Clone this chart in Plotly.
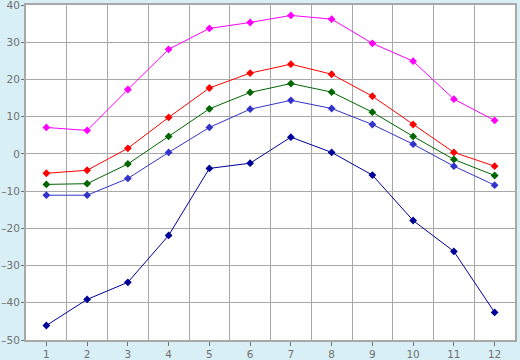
import plotly.graph_objects as go

months = [1, 2, 3, 4, 5, 6, 7, 8, 9, 10, 11, 12]
y_ticks = [-50, -40, -30, -20, -10, 0, 10, 20, 30, 40]
y_labels = ["–50", "–40", "–30", "–20", "–10", "0", "10", "20", "30", "40"]
s_max = [7.1, 6.3, 17.3, 28.1, 33.7, 35.3, 37.2, 36.2, 29.7, 24.9, 14.7, 9.0]
s_high = [-5.2, -4.4, 1.5, 9.8, 17.7, 21.7, 24.1, 21.4, 15.5, 7.9, 0.4, -3.3]
s_mean = [-8.2, -8.0, -2.7, 4.7, 12.1, 16.5, 18.9, 16.6, 11.2, 4.7, -1.5, -5.8]
s_low = [-11.1, -11.1, -6.6, 0.4, 7.1, 12.0, 14.4, 12.2, 7.9, 2.6, -3.3, -8.4]
s_min = [-46.1, -39.1, -34.5, -21.9, -3.9, -2.5, 4.5, 0.4, -5.7, -17.9, -26.2, -42.6]

series = [
    (s_max, "#ff00ff"),
    (s_high, "#ff0000"),
    (s_mean, "#006600"),
    (s_low, "#3333cc"),
    (s_min, "#000099"),
]

fig = go.Figure()
for vals, col in series:
    fig.add_trace(go.Scatter(
        x=months, y=vals, mode="lines+markers",
        line=dict(color=col, width=1),
        marker=dict(symbol="diamond", size=6, color=col),
        showlegend=False, hoverinfo="skip",
    ))

grid = "#a8a8a8"
fig.update_layout(
    width=520, height=360,
    margin=dict(l=26, r=5, t=5, b=20, autoexpand=False),
    paper_bgcolor="#d9eff6",
    plot_bgcolor="#ffffff",
    font=dict(family="DejaVu Sans", size=10.5, color="#707070"),
    xaxis=dict(
        range=[0.5, 12.5], tickmode="array", tickvals=months,
        ticktext=[str(m) for m in months],
        showgrid=False, ticks="outside", ticklen=4, tickcolor="#707070",
        showline=True, linecolor=grid, linewidth=2, mirror=True,
        zeroline=False, automargin=False,
        ticklabeloverflow="allow", ticklabelstandoff=-1,
        minor=dict(tick0=0.5, dtick=1, showgrid=True, gridcolor=grid, gridwidth=1, ticks=""),
        fixedrange=True,
    ),
    yaxis=dict(
        range=[-50, 40], tickmode="array", tickvals=y_ticks, ticktext=y_labels,
        showgrid=True, gridcolor=grid, gridwidth=1,
        ticks="outside", ticklen=3, tickcolor="#707070",
        showline=True, linecolor=grid, linewidth=2, mirror=True,
        zeroline=False, fixedrange=True, automargin=False,
        ticklabeloverflow="allow", ticklabelstandoff=-1,
    ),
)

fig.write_html("out.html", config={"displayModeBar": False},
               post_script="document.body.style.margin='0';")
